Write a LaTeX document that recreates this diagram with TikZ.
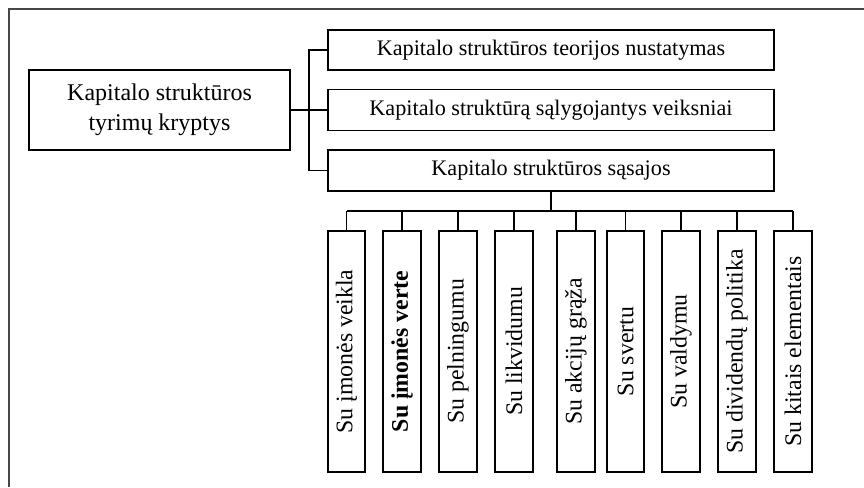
\documentclass[tikz,border=0pt]{standalone}
\usepackage{fontspec}
\setmainfont{Liberation Serif}
\begin{document}
\begin{tikzpicture}[x=1pt,y=-1pt,
  box/.style={draw=black, line width=1.6pt, fill=white, inner sep=0pt,
    font=\fontsize{22.2}{30}\selectfont, align=center},
  vbox/.style={draw=black, line width=1.6pt, fill=white, inner sep=0pt,
    rotate=90, minimum width=241pt, minimum height=37.5pt,
    font=\fontsize{23.8}{28}\selectfont},
  wire/.style={draw=black, line width=1.4pt}]
\useasboundingbox (0,0) rectangle (864,487);
% outer frame
\draw[line width=2pt, black!72] (8.5,487) -- (8.5,9) -- (864,9);

% root
\node[box, minimum width=261pt, minimum height=80pt,
  font=\fontsize{24}{30}\selectfont] (root) at (159.5,110)
  {Kapitalo struktūros\\tyrimų kryptys};

% directions
\node[box, minimum width=446pt, minimum height=40pt] (t1) at (551,50)
  {Kapitalo struktūros teorijos nustatymas};
\node[box, minimum width=446pt, minimum height=41pt] (t2) at (551,110)
  {Kapitalo struktūrą sąlygojantys veiksniai};
\node[box, minimum width=446pt, minimum height=41pt] (t3) at (551,170.5)
  {Kapitalo struktūros sąsajos};

% bracket from root to the three directions
\coordinate (brk) at (309,0);
\draw[wire] (root.east) -- (t2.west);
\draw[wire] (t1.west) -- (t1.west -| brk) -- (t3.west -| brk) -- (t3.west);

% links
\node[vbox] (v1) at (346.5,351.5) {Su įmonės veikla};
\node[vbox] (v2) at (402,351.5) {\bfseries Su įmonės verte};
\node[vbox] (v3) at (458,351.5) {Su pelningumu};
\node[vbox] (v4) at (514,351.5) {Su likvidumu};
\node[vbox] (v5) at (576,351.5) {Su akcijų grąža};
\node[vbox] (v6) at (625.5,351.5) {Su svertu};
\node[vbox] (v7) at (681,351.5) {Su valdymu};
\node[vbox] (v8) at (737,351.5) {Su dividendų politika};
\node[vbox] (v9) at (793,351.5) {Su kitais elementais};

% bus to the links
\coordinate (bus) at (0,211);
\draw[wire] (t3.south) -- (t3.south |- bus);
\draw[wire] (v1 |- bus) -- (v9 |- bus);
\foreach \i in {1,...,9}
  \draw[wire] (v\i |- bus) -- (v\i);
\end{tikzpicture}
\end{document}
